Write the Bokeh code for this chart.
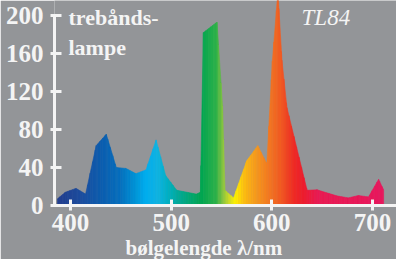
import numpy as np
from bokeh.plotting import figure
from bokeh.models import Range1d, FixedTicker, Label, Title
from bokeh.embed import file_html
from bokeh.resources import INLINE

# Spectrum of a TL84 tri-band lamp (relative intensity vs wavelength in nm)
wavelength = [387, 395, 405.5, 415, 425.5, 435.5, 445.5, 455, 465, 475, 485, 494.5,
              505.5, 525, 529, 532, 545.5, 551, 553.5, 562, 575, 586, 595, 600.5,
              606, 610, 615, 635, 645, 655.5, 665, 676, 686, 696, 706, 711]
intensity = [7, 14, 18, 12, 63, 75, 40, 39, 33.5, 37.5, 69, 31.5,
             16, 12, 14, 182, 193, 105, 16, 8, 47, 63, 44, 152,
             225, 153, 103, 16, 16.5, 13, 10, 8, 10.5, 9, 27.5, 16.5]

x_ticks = [400, 500, 600, 700]
y_ticks = [0, 40, 80, 120, 160, 200]

# spectral colour palette (style)
pal_wl = [385, 410, 430, 450, 465, 475, 487, 497, 507, 518, 530, 545, 552, 558, 564,
          572, 582, 595, 605, 613, 622, 632, 645, 712]
pal_hex = ["#233d8c", "#1d4c9e", "#0b5cae", "#0570bf", "#0095d8", "#00aeef", "#10b3e2",
           "#00b0c4", "#00aa9a", "#00a775", "#00a651", "#2fb14a", "#8dc63f", "#cfdc26",
           "#fff200", "#fdc010", "#f7a01b", "#f47e20", "#f26522", "#f04e23", "#ee2b24",
           "#ed1c2e", "#ea1a52", "#e8175d"]
pal_rgb = np.array([[int(h[i:i + 2], 16) for i in (1, 3, 5)] for h in pal_hex], float)


def spec_color(w):
    r, g, b = (np.interp(w, pal_wl, pal_rgb[:, k]) for k in range(3))
    return "#%02x%02x%02x" % (int(round(r)), int(round(g)), int(round(b)))


BG = "#939598"
FG = "#f4f4f4"
FONT = "Liberation Serif"

p = figure(width=396, height=259, output_backend="svg", toolbar_location=None,
           x_range=Range1d(384.1, 723.8), y_range=Range1d(0, 215.8),
           min_border_left=54, min_border_right=0, min_border_top=0, min_border_bottom=54)
p.background_fill_color = BG
p.border_fill_color = BG
p.outline_line_color = None
p.grid.visible = False

# colour strips following the spectrum polyline
wl = np.array(wavelength, float)
iv = np.array(intensity, float)
edges = np.union1d(np.arange(wl[0], wl[-1], 2.5), wl)
heights = np.interp(edges, wl, iv)
xs, ys, cols = [], [], []
for i in range(len(edges) - 1):
    a, b = edges[i], edges[i + 1]
    xs.append([a, a, b, b])
    ys.append([0, heights[i], heights[i + 1], 0])
    cols.append(spec_color(0.5 * (a + b)))
p.patches(xs, ys, fill_color=cols, line_color=cols, line_width=0.6)

for ax in (p.xaxis[0], p.yaxis[0]):
    ax.axis_line_color = FG
    ax.axis_line_width = 3
    ax.major_tick_line_color = FG
    ax.major_tick_line_width = 3
    ax.minor_tick_line_color = None
    ax.major_label_text_color = FG
    ax.major_label_text_font = FONT
    ax.major_label_text_font_style = "bold"
    ax.major_label_text_font_size = "25px"

p.xaxis.ticker = FixedTicker(ticks=x_ticks)
p.xaxis.major_tick_in = 6
p.xaxis.major_tick_out = 5
p.xaxis.major_label_standoff = 3

p.yaxis.ticker = FixedTicker(ticks=y_ticks)
p.yaxis.bounds = (0, 200)
p.yaxis.major_tick_in = 7
p.yaxis.major_tick_out = 4
p.yaxis.major_label_standoff = 7

common = dict(text_color=FG, text_font=FONT, text_baseline="alphabetic")
p.add_layout(Label(x=398, y=197.9, text="trebånds-", text_font_size="22px",
                   text_font_style="bold", **common))
p.add_layout(Label(x=398, y=166.3, text="lampe", text_font_size="22px",
                   text_font_style="bold", **common))
p.add_layout(Label(x=629.5, y=197.9, text="TL84", text_font_size="23px",
                   text_font_style="italic", **common))

xlabel = Title(text="bølgelengde λ/nm", align="left", offset=71, standoff=0,
               text_color=FG, text_font=FONT, text_font_style="bold",
               text_font_size="21px")
p.add_layout(xlabel, "below")

open("out.html", "w").write(file_html(p, INLINE))
